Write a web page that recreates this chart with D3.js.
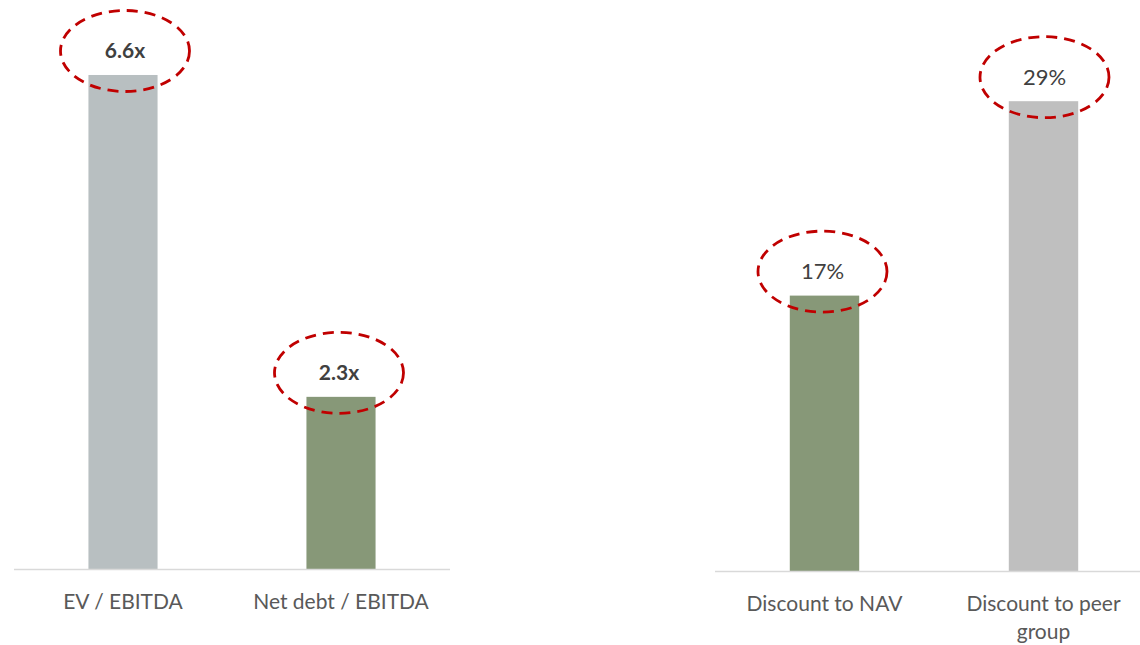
<!DOCTYPE html>
<html>
<head>
<meta charset="utf-8">
<script src="https://cdn.jsdelivr.net/npm/d3@7"></script>
<style>
  html, body { margin: 0; padding: 0; background: #fff; }
  svg { display: block; font-family: Lato, "Open Sans", sans-serif; }
</style>
</head>
<body>
<svg id="chart" width="1140" height="645"></svg>
<script>
// Leverage multiples (left panel)
const multipleCategories = ["EV / EBITDA", "Net debt / EBITDA"];
const multipleValues = [6.6, 2.3];
const multipleLabels = ["6.6x", "2.3x"];

// Discounts in percent (right panel)
const discountCategories = ["Discount to NAV", "Discount to peer group"];
const discountValues = [17, 29];
const discountLabels = ["17%", "29%"];

const svg = d3.select("#chart");

function drawPanel(cfg) {
  const g = svg.append("g");
  const x = d3.scaleBand()
    .domain(cfg.categories)
    .range(cfg.xRange)
    .paddingInner(0.683)
    .paddingOuter(0.3415);
  const y = d3.scaleLinear().domain(cfg.yDomain).range(cfg.yRange);

  // bars
  g.selectAll("rect.bar")
    .data(cfg.values)
    .join("rect")
    .attr("class", "bar")
    .attr("x", (d, i) => x(cfg.categories[i]))
    .attr("width", x.bandwidth())
    .attr("y", d => y(d))
    .attr("height", d => y(0) - y(d))
    .attr("fill", (d, i) => cfg.colors[i]);

  // baseline
  g.append("line")
    .attr("x1", cfg.xRange[0]).attr("x2", cfg.lineEnd)
    .attr("y1", y(0) + 0.5).attr("y2", y(0) + 0.5)
    .attr("stroke", "#d9d9d9").attr("stroke-width", 1.5);

  // dashed ellipses highlighting each value
  const cx = i => x(cfg.categories[i]) + x.bandwidth() / 2 + cfg.ellipseShift[i];
  g.selectAll("ellipse.mark")
    .data(cfg.values)
    .join("ellipse")
    .attr("class", "mark")
    .attr("cx", (d, i) => cx(i))
    .attr("cy", d => y(d) - 24)
    .attr("rx", 64.5)
    .attr("ry", 40.5)
    .attr("fill", "none")
    .attr("stroke", "#c00000")
    .attr("stroke-width", 2.8)
    .attr("stroke-dasharray", "11 7");

  // value labels
  g.selectAll("text.val")
    .data(cfg.values)
    .join("text")
    .attr("class", "val")
    .attr("x", (d, i) => cx(i))
    .attr("y", d => y(d) - 24)
    .attr("dy", "0.35em")
    .attr("text-anchor", "middle")
    .attr("font-size", cfg.valueSize)
    .attr("font-weight", cfg.valueWeight)
    .attr("fill", "#404040")
    .text((d, i) => cfg.labels[i]);

  // category labels, wrapped where given
  cfg.categories.forEach((c, i) => {
    const lines = cfg.wrapped[i];
    const t = g.append("text")
      .attr("text-anchor", "middle")
      .attr("font-size", 21)
      .attr("fill", "#595959");
    lines.forEach((ln, k) => {
      t.append("tspan")
        .attr("x", x(c) + x.bandwidth() / 2)
        .attr("y", y(0) + 40 + k * 28)
        .text(ln);
    });
  });
}

drawPanel({
  categories: multipleCategories,
  values: multipleValues,
  labels: multipleLabels,
  wrapped: [["EV / EBITDA"], ["Net debt / EBITDA"]],
  xRange: [14, 450],
  lineEnd: 450,
  yDomain: [0, 7],
  yRange: [569, 569 - 7 * 74.85],
  colors: ["#b8bfc1", "#879878"],
  ellipseShift: [2, -2],
  valueSize: 21,
  valueWeight: "bold"
});

drawPanel({
  categories: discountCategories,
  values: discountValues,
  labels: discountLabels,
  wrapped: [["Discount to NAV"], ["Discount to peer", "group"]],
  xRange: [715, 1153],
  lineEnd: 1140,
  yDomain: [0, 35],
  yRange: [571, 571 - 35 * 16.2],
  colors: ["#879878", "#bfbfbf"],
  ellipseShift: [-2, 1],
  valueSize: 22,
  valueWeight: "normal"
});
</script>
</body>
</html>
